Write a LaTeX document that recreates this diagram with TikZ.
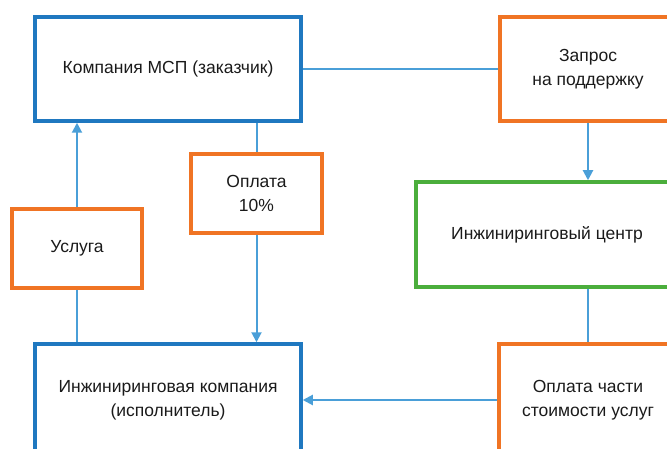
\documentclass[tikz,border=0pt]{standalone}
\usepackage{fontspec}
\setmainfont{Liberation Sans}
\usetikzlibrary{arrows.meta}
\definecolor{bblue}{HTML}{1F78C0}
\definecolor{lblue}{HTML}{4A9FD8}
\definecolor{borange}{HTML}{F07424}
\definecolor{bgreen}{HTML}{4BAE3C}
\definecolor{txt}{HTML}{1A1A1A}
\begin{document}
\begin{tikzpicture}[x=1pt,y=-1pt,
  box/.style={draw, line width=3.5pt, rectangle, inner sep=0pt, align=center,
    font=\fontsize{17.5}{24}\selectfont, text=txt},
  bluebox/.style={box, draw=bblue},
  orangebox/.style={box, draw=borange},
  greenbox/.style={box, draw=bgreen},
  conn/.style={draw=lblue, line width=2pt},
  arr/.style={conn, -{Triangle[width=10pt,length=10pt]}}]
\useasboundingbox (0,0) rectangle (667,449);
\clip (0,0) rectangle (667,449);
\node[bluebox, minimum width=266pt, minimum height=104pt] (msp) at (168,69) {Компания МСП (заказчик)};
\node[orangebox, minimum width=176pt, minimum height=104pt] (zapros) at (588,69) {Запрос\\на поддержку};
\node[greenbox, minimum width=262pt, minimum height=105pt] (center) at (547,234.5) {Инжиниринговый центр};
\node[orangebox, minimum width=178pt, minimum height=112pt] (chast) at (588,400) {Оплата части\\стоимости услуг};
\node[bluebox, minimum width=266pt, minimum height=112pt] (inzh) at (168,400) {Инжиниринговая компания\\(исполнитель)};
\node[orangebox, minimum width=131pt, minimum height=79pt] (opl) at (256.5,193.5) {Оплата\\10\%};
\node[orangebox, minimum width=130pt, minimum height=79pt] (usl) at (77,248.5) {Услуга};
\draw[conn] (msp.east) -- (zapros.west);
\draw[arr] (zapros.south) -- (zapros.south |- center.north);
\draw[conn] (chast.north |- center.south) -- (chast.north);
\draw[arr] (chast.west) -- (inzh.east);
\draw[conn] (opl.north |- msp.south) -- (opl.north);
\draw[arr] (opl.south) -- (opl.south |- inzh.north);
\draw[arr] (usl.north) -- (usl.north |- msp.south);
\draw[conn] (usl.south) -- (usl.south |- inzh.north);
\end{tikzpicture}
\end{document}
